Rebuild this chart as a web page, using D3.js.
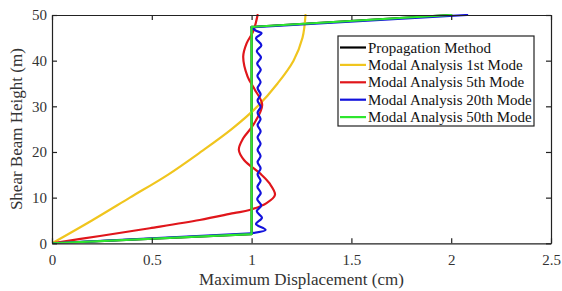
<!DOCTYPE html>
<html><head><meta charset="utf-8">
<script src="https://cdn.jsdelivr.net/npm/d3@7/dist/d3.min.js"></script>
<style>body{margin:0;background:#fff}svg{display:block}</style>
</head><body><svg id="c" width="562" height="291"></svg>
<script>
const xTicks=[0,0.5,1,1.5,2,2.5];
const yTicks=[0,10,20,30,40,50];
const seriesNames=["Propagation Method","Modal Analysis 1st Mode","Modal Analysis 5th Mode","Modal Analysis 20th Mode","Modal Analysis 50th Mode"];
const seriesColors=["#000000","#F0C51E","#E0161B","#1212DC","#2EE62E"];
// heights (m) and displacements (cm)
const propH=[0,2.0,47.4,50];
const propD=[0,1.0,1.0,2.0];
const mode1H=[0,5,10,15,20,25,30,35,40,45,50];
const mode1D=[0,0.2,0.39,0.58,0.745,0.9,1.03,1.13,1.21,1.255,1.27];
const mode5H=[0,1.6,3.3,5.1,6.6,7.3,8.8,10.6,13.1,15.2,18.2,20.5,23.0,25.9,30.3,33.6,36.5,40.9,43.8,46.4,50];
const mode5D=[0,0.24,0.49,0.74,0.91,0.99,1.075,1.117,1.09,1.045,0.963,0.936,0.958,1.008,1.053,1.017,0.98,0.958,0.975,1.008,1.03];
const mode20H=[0,2.2,2.9,4.2,5.6,7.0,8.3,9.7,11.0,12.4,13.7,15.1,16.4,17.8,19.1,20.5,21.8,23.2,24.5,25.9,27.2,28.6,29.9,31.3,32.6,34.0,35.3,36.7,38.0,39.4,40.7,42.1,43.4,44.9,46.0,46.6,47.3,50];
const mode20D=[0,1.0,1.07,1.022,1.052,1.026,1.048,1.028,1.046,1.029,1.045,1.030,1.045,1.030,1.045,1.030,1.045,1.030,1.045,1.030,1.045,1.030,1.045,1.030,1.045,1.030,1.045,1.029,1.046,1.028,1.047,1.026,1.049,1.022,1.05,1.02,1.0,2.08];
const mode50H=[0,2.0,47.4,50];
const mode50D=[0,1.0,1.0,2.0];

const FONT="Liberation Serif";
const svg=d3.select("#c");
const L=52,R=551,T=15,B=243.3;
const x=d3.scaleLinear().domain([0,2.5]).range([L,R]);
const y=d3.scaleLinear().domain([0,50]).range([B,T]);

svg.append("defs").append("clipPath").attr("id","clip").append("rect").attr("x",L).attr("y",T-1).attr("width",R-L).attr("height",B-T+1);
const plot=svg.append("g").attr("clip-path","url(#clip)");

function pts(H,D){return H.map((h,i)=>[D[i],h]);}
const lin=d3.line().x(d=>x(d[0])).y(d=>y(d[1]));
const mono=d3.line().x(d=>x(d[0])).y(d=>y(d[1])).curve(d3.curveMonotoneY);
const smooth=d3.line().x(d=>x(d[0])).y(d=>y(d[1])).curve(d3.curveCatmullRom.alpha(0.5));
function draw(p,color,segs){
  segs.forEach(s=>{
    const g=s.curve==="smooth"?smooth:(s.curve?mono:lin);
    plot.append("path").attr("d",g(p.slice(s.a,s.b))).attr("fill","none")
      .attr("stroke",color).attr("stroke-width",2.2).attr("stroke-linejoin","round").attr("stroke-linecap","round");
  });
}
draw(pts(propH,propD),seriesColors[0],[{a:0,b:4}]);
draw(pts(mode1H,mode1D),seriesColors[1],[{a:0,b:mode1H.length,curve:"smooth"}]);
draw(pts(mode5H,mode5D),seriesColors[2],[{a:0,b:mode5H.length,curve:"smooth"}]);
const n20=mode20H.length;
draw(pts(mode20H,mode20D),seriesColors[3],[{a:0,b:2},{a:1,b:n20-1,curve:true},{a:n20-2,b:n20}]);
draw(pts(mode50H,mode50D),seriesColors[4],[{a:0,b:4}]);

// axes box
const ax=svg.append("g");
ax.append("g").attr("transform",`translate(0,${B})`).call(d3.axisBottom(x).tickValues(xTicks).tickFormat(d3.format("")).tickSizeInner(-5).tickSizeOuter(0).tickPadding(11));
ax.append("g").attr("transform",`translate(0,${T})`).call(d3.axisTop(x).tickValues(xTicks).tickFormat("").tickSizeInner(-5).tickSizeOuter(0));
ax.append("g").attr("transform",`translate(${L},0)`).call(d3.axisLeft(y).tickValues(yTicks).tickSizeInner(-5).tickSizeOuter(0).tickPadding(5));
ax.append("g").attr("transform",`translate(${R},0)`).call(d3.axisRight(y).tickValues(yTicks).tickFormat("").tickSizeInner(-5).tickSizeOuter(0));
ax.selectAll("g").attr("font-family",FONT);
ax.selectAll(".domain").attr("stroke","#222").attr("stroke-width",1.2);
ax.selectAll(".tick line").attr("stroke","#222").attr("stroke-width",1.2);
ax.selectAll(".tick text").attr("font-family",FONT).style("font-family",FONT).attr("font-size",15).attr("fill","#333");

svg.append("text").attr("x",(L+R)/2).attr("y",285).attr("text-anchor","middle").attr("font-family",FONT).style("font-family",FONT).attr("font-size",17).attr("fill","#333").text("Maximum Displacement (cm)");
svg.append("text").attr("transform",`translate(22,${(T+B)/2}) rotate(-90)`).attr("text-anchor","middle").attr("font-family",FONT).style("font-family",FONT).attr("font-size",17).attr("fill","#333").text("Shear Beam Height (m)");

// legend
const lg=svg.append("g");
lg.append("rect").attr("x",338).attr("y",36).attr("width",196).attr("height",90).attr("fill","#fff").attr("stroke","#222").attr("stroke-width",1.2);
seriesNames.forEach((nm,i)=>{
  const yy=47.5+i*17.4;
  lg.append("line").attr("x1",340).attr("x2",366).attr("y1",yy).attr("y2",yy).attr("stroke",seriesColors[i]).attr("stroke-width",2.2);
  lg.append("text").attr("x",368).attr("y",yy+5).attr("font-family",FONT).style("font-family",FONT).attr("font-size",15).attr("fill","#111").text(nm);
});
</script></body></html>
